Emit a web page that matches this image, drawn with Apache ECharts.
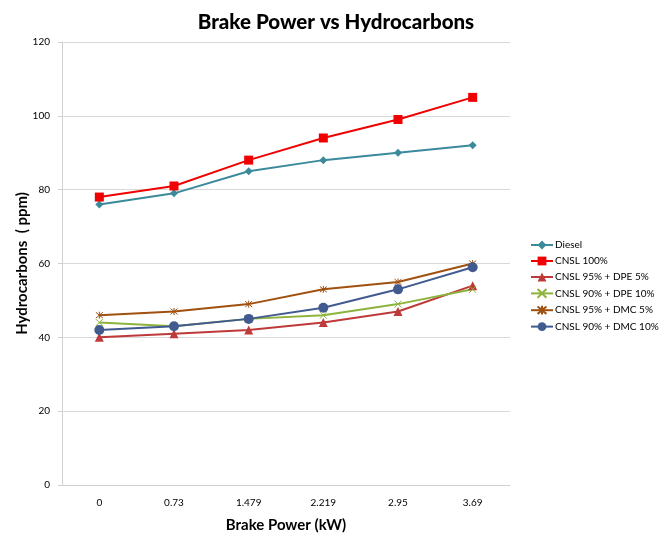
<!DOCTYPE html>
<html lang="en">
<head>
    <meta charset="UTF-8">
    <title>Brake Power vs Hydrocarbons</title>
    <script src="https://cdn.jsdelivr.net/npm/echarts@6/dist/echarts.min.js"></script>
</head>
<body style="margin:0">
<div id="main" style="width: 672px; height: 538px;"></div>
<script>
    const categories = ['0', '0.73', '1.479', '2.219', '2.95', '3.69']
    const diesel = [76, 79, 85, 88, 90, 92]
    const cnsl100 = [78, 81, 88, 94, 99, 105]
    const dpe5 = [40, 41, 42, 44, 47, 54]
    const dpe10 = [44, 43, 45, 46, 49, 53]
    const dmc5 = [46, 47, 49, 53, 55, 60]
    const dmc10 = [42, 43, 45, 48, 53, 59]

    const font = 'Lato'
    const crossIcon = 'path://M0,0L10,10M10,0L0,10'
    const starIcon = 'path://M0,0L10,10M10,0L0,10M5,-1L5,11'

    function line(name, data, color, symbol, size, stroked) {
        return {
            name: name,
            type: 'line',
            data: data,
            symbol: symbol,
            symbolSize: size,
            lineStyle: { color: color, width: 2 },
            itemStyle: stroked
                ? { color: 'rgba(0,0,0,0)', borderColor: color, borderWidth: 1 }
                : { color: color, borderWidth: 0 },
            emphasis: { disabled: true }
        }
    }

    const chart = echarts.init(document.getElementById('main'))
    chart.setOption({
        animation: false,
        title: {
            text: 'Brake Power vs Hydrocarbons',
            left: 331,
            textAlign: 'center',
            top: 7,
            textStyle: { fontFamily: font, fontSize: 20.5, fontWeight: 900, color: '#000' }
        },
        legend: {
            orient: 'vertical',
            left: 525,
            top: 235,
            itemGap: 6,
            itemWidth: 22,
            itemHeight: 11,
            textStyle: { fontFamily: font, fontSize: 10, color: '#000', padding: [0, 0, 0, -3] },
            data: ['Diesel', 'CNSL 100%', 'CNSL 95% + DPE 5%', 'CNSL 90% + DPE 10%', 'CNSL 95% + DMC 5%', 'CNSL 90% + DMC 10%']
        },
        grid: { left: 62, right: 162, top: 42, bottom: 53 },
        xAxis: {
            type: 'category',
            data: categories,
            boundaryGap: true,
            name: 'Brake Power (kW)',
            nameLocation: 'middle',
            nameGap: 33,
            nameTextStyle: { fontFamily: font, fontSize: 15, fontWeight: 'bold', color: '#000' },
            axisLine: { lineStyle: { color: '#d0d0d0' } },
            axisTick: { lineStyle: { color: '#d0d0d0' }, length: 4 },
            axisLabel: { fontFamily: font, fontSize: 10, color: '#000', margin: 13 }
        },
        yAxis: {
            type: 'value',
            min: 0,
            max: 120,
            interval: 20,
            name: 'Hydrocarbons  ( ppm)',
            nameLocation: 'middle',
            nameGap: 32,
            nameMoveOverlap: false,
            nameTextStyle: { fontFamily: font, fontSize: 15, fontWeight: 'bold', color: '#000' },
            axisLine: { show: true, lineStyle: { color: '#d0d0d0' } },
            axisTick: { show: true, lineStyle: { color: '#d0d0d0' }, length: 4 },
            splitLine: { lineStyle: { color: '#d9d9d9' } },
            axisLabel: { fontFamily: font, fontSize: 10, color: '#000', margin: 12 }
        },
        series: [
            line('Diesel', diesel, '#3b8a9c', 'diamond', 8),
            line('CNSL 100%', cnsl100, '#f00000', 'rect', 9),
            line('CNSL 95% + DPE 5%', dpe5, '#be3a3a', 'triangle', 9),
            line('CNSL 90% + DPE 10%', dpe10, '#8db33d', crossIcon, 7, true),
            line('CNSL 95% + DMC 5%', dmc5, '#a0500f', starIcon, 7, true),
            line('CNSL 90% + DMC 10%', dmc10, '#415a8f', 'circle', 10)
        ]
    })
</script>
</body>
</html>
